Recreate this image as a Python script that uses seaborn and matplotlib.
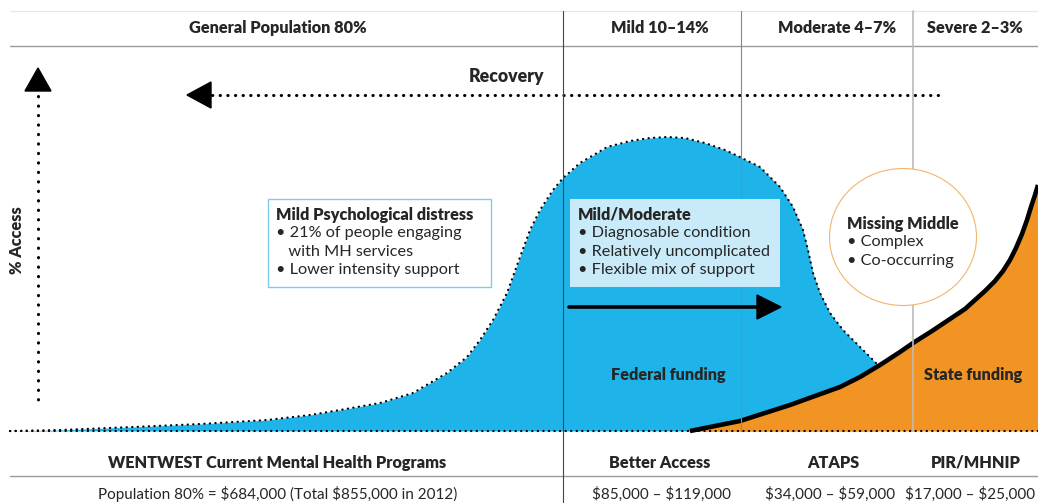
import matplotlib
matplotlib.use("Agg")
import matplotlib.pyplot as plt
import seaborn as sns
import pandas as pd
from matplotlib.patches import Rectangle, Ellipse, Polygon

# ---------------- data ----------------
segment_labels = ["General Population 80%", "Mild 10–14%", "Moderate 4–7%", "Severe 2–3%"]
program_labels = ["WENTWEST Current Mental Health Programs", "Better Access", "ATAPS", "PIR/MHNIP"]
budget_labels = ["Population 80% = $684,000 (Total $855,000 in 2012)",
                 "$85,000 – $119,000", "$34,000 – $59,000", "$17,000 – $25,000"]

# Federal (blue) access curve (diagram units)
federal_x = [10, 60, 133, 200, 267, 310, 340, 380, 413, 447, 467, 480, 493, 507, 520, 530,
             540, 553, 563, 580, 597, 607, 630, 650, 667, 685, 705, 725, 740, 760, 780,
             793, 803, 808, 813, 820, 830, 843, 860, 877]
federal_y = [431, 430, 427, 424, 420, 415, 410, 403, 393, 373, 357, 340, 320, 293, 257, 230,
             210, 190, 178, 163, 153, 147, 141, 138, 137, 138, 143, 150, 157, 167, 187,
             207, 230, 250, 273, 293, 313, 330, 347, 364]

# State (orange) access curve
state_x = [690, 715, 740, 765, 790, 815, 840, 860, 880, 900, 913, 932, 950, 965, 975, 985,
           995, 1003, 1010, 1016, 1022, 1027, 1031, 1035, 1038]
state_y = [431, 426, 421, 413, 405, 396, 387, 377, 365, 352, 343, 331, 319, 309, 300, 291,
           281, 271, 260, 248, 234, 220, 207, 195, 185]

mild_box = ["Mild Psychological distress", "• 21% of people engaging", "   with MH services",
            "• Lower intensity support"]
moderate_box = ["Mild/Moderate", "• Diagnosable condition", "• Relatively uncomplicated",
                "• Flexible mix of support"]
missing_box = ["Missing Middle", "• Complex", "• Co-occurring"]

# ---------------- style ----------------
sns.set_theme(style="white")
plt.rcParams["font.family"] = ["Lato", "DejaVu Sans"]
plt.rcParams["text.parse_math"] = False

BLUE = "#1fb4e9"
ORANGE = "#f29423"
W, H = 1038, 503
BASE = 431
FS = 11.7
FS_SMALL = 11.0
BOLD = "heavy"

fig = plt.figure(figsize=(W / 100, H / 100), dpi=100)
ax = fig.add_axes([0, 0, 1, 1])

fed = pd.DataFrame({"x": federal_x, "y": federal_y})
st = pd.DataFrame({"x": state_x, "y": state_y})

# fills
ax.fill_between(fed["x"], fed["y"], BASE, color=BLUE, lw=0, zorder=1)
ax.fill_between(st["x"], st["y"], BASE, color=ORANGE, lw=0, zorder=2)

# dotted outline of federal curve
sns.lineplot(data=fed, x="x", y="y", sort=False, ax=ax, color="black", lw=1.6,
             linestyle=(0, (0.1, 2.4)), dash_capstyle="round", zorder=3, estimator=None)
# solid state curve
sns.lineplot(data=st, x="x", y="y", sort=False, ax=ax, color="black", lw=3.3,
             zorder=4, estimator=None, solid_capstyle="butt", solid_joinstyle="round")
ax.set_xlim(0, W)
ax.set_ylim(H, 0)
ax.axis("off")

# baseline dotted
ax.plot([10, W], [BASE, BASE], color="black", lw=1.6, linestyle=(0, (0.1, 2.4)),
        dash_capstyle="round", zorder=5)

# grid lines
ax.plot([10, W], [11, 11], color="#e6e6e6", lw=0.8, zorder=0)
ax.plot([10, W], [46, 46], color="#9a9a9a", lw=1.0, zorder=0)
ax.plot([10, W], [476, 476], color="#9a9a9a", lw=1.0, zorder=0)
ax.plot([563, 563], [11, H], color="#444444", lw=0.8, zorder=6)
ax.plot([741, 741], [11, BASE], color="#888888", lw=0.8, zorder=6)
ax.plot([913, 913], [11, BASE], color="#bbbbbb", lw=1.2, zorder=6)

# Recovery arrow
ax.plot([212, 940], [95, 95], color="black", lw=2.2, linestyle=(0, (0.1, 2.4)),
        dash_capstyle="round", zorder=5)
ax.add_patch(Polygon([[187, 95], [211, 82], [211, 108]], closed=True, color="black", zorder=5))
ax.text(507, 76, "Recovery", ha="center", va="center", fontsize=FS + 1, fontweight=BOLD, zorder=7)

# % Access arrow
ax.plot([38, 38], [96, 400], color="black", lw=2.2, linestyle=(0, (0.1, 3.0)),
        dash_capstyle="round", zorder=5)
ax.add_patch(Polygon([[38, 68], [25, 91], [51, 91]], closed=True, color="black", zorder=5))
ax.text(17, 240, "% Access", ha="center", va="center", rotation=90, fontsize=FS,
        fontweight=BOLD, zorder=7)

# header / footer labels
seg_x = [278, 660, 837, 975]
for lab, x in zip(segment_labels, seg_x):
    ax.text(x, 28, lab, ha="center", va="center", fontsize=FS, fontweight=BOLD, zorder=7)
prog_x = [277, 660, 833, 976]
for lab, x in zip(program_labels, prog_x):
    ax.text(x, 463, lab, ha="center", va="center", fontsize=FS, fontweight=BOLD, zorder=7)
bud_x = [278, 662, 830, 970]
for lab, x in zip(budget_labels, bud_x):
    ax.text(x, 494, lab, ha="center", va="center", fontsize=FS_SMALL, zorder=7)

# boxes
ax.add_patch(Rectangle((268, 199), 223, 88, facecolor="white", edgecolor="#7fcdee", lw=1.0, zorder=7))
for i, line in enumerate(mild_box):
    ax.text(276, 215 + i * 18.3, line, ha="left", va="center", fontsize=FS,
            fontweight=BOLD if i == 0 else "normal", zorder=8)

ax.add_patch(Rectangle((570, 199), 210, 88, facecolor="#d7f0fb", edgecolor="none", alpha=0.93, zorder=7))
for i, line in enumerate(moderate_box):
    ax.text(578, 215 + i * 18.3, line, ha="left", va="center", fontsize=FS,
            fontweight=BOLD if i == 0 else "normal", zorder=8)

ax.plot([569, 760], [307, 307], color="black", lw=2.6, solid_capstyle="round", zorder=8)
ax.add_patch(Polygon([[781, 307], [757, 295], [757, 319]], closed=True, color="black", zorder=8))

ax.add_patch(Ellipse((903, 237), 147, 137, facecolor="white", edgecolor="#f5b46c", lw=0.8, zorder=7))
for i, line in enumerate(missing_box):
    ax.text(847, 224 + i * 18.3, line, ha="left", va="center", fontsize=FS,
            fontweight=BOLD if i == 0 else "normal", zorder=8)

ax.text(668, 375, "Federal funding", ha="center", va="center", fontsize=FS, fontweight=BOLD, zorder=8)
ax.text(973, 375, "State funding", ha="center", va="center", fontsize=FS, fontweight=BOLD, zorder=8)

fig.savefig("out.png", dpi=100)
